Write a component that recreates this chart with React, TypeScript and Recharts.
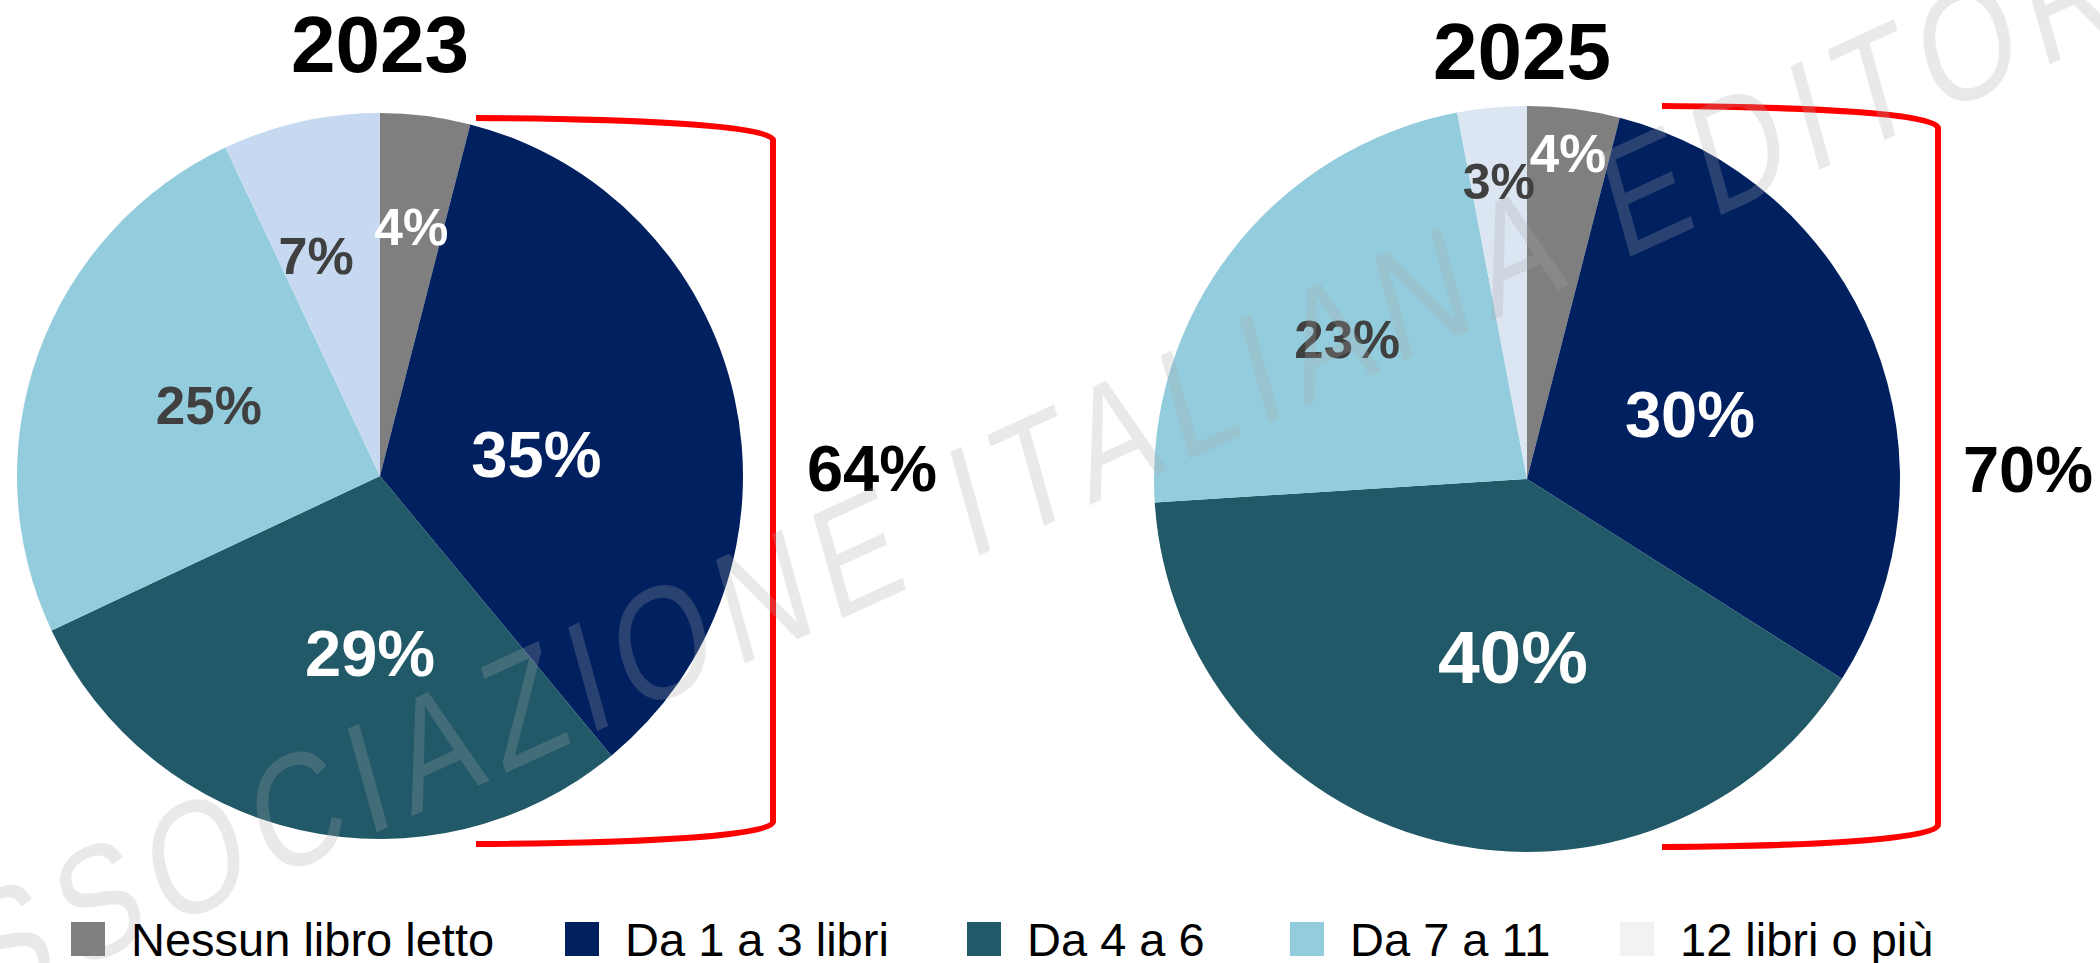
import { PieChart, Pie, Cell } from 'recharts'

const categories = ['Nessun libro letto', 'Da 1 a 3 libri', 'Da 4 a 6', 'Da 7 a 11', '12 libri o più']
const values2023 = [4, 35, 29, 25, 7]
const values2025 = [4, 30, 40, 23, 3]

const colors2023 = ['#7F7F7F', '#002060', '#215968', '#93CDDD', '#C6D9F1']
const colors2025 = ['#7F7F7F', '#002060', '#215968', '#93CDDD', '#DCE6F2']
const legendColors = ['#7F7F7F', '#002060', '#215968', '#93CDDD', '#F2F2F2']

// label placement: fraction of radius, angle nudge (deg), font size, colour
const labels2023 = [
  { r: 0.69, da: 0, size: 51, fill: '#FFFFFF' },
  { r: 0.435, da: -4.6, size: 65, fill: '#FFFFFF' },
  { r: 0.49, da: 9.4, size: 65, fill: '#FFFFFF' },
  { r: 0.51, da: -2.6, size: 53, fill: '#404040' },
  { r: 0.63, da: 3.6, size: 52, fill: '#404040' },
]
const labels2025 = [
  { r: 0.88, da: 0, size: 53, fill: '#FFFFFF' },
  { r: 0.47, da: 0, size: 65, fill: '#FFFFFF' },
  { r: 0.48, da: 9.9, size: 75, fill: '#FFFFFF' },
  { r: 0.61, da: 0, size: 53, fill: '#404040' },
  { r: 0.8, da: 0, size: 50, fill: '#404040' },
]

const legendLeft = [71, 565, 967, 1290, 1620]

const FONT = '"Liberation Sans", Arial, sans-serif'
const RADIAN = Math.PI / 180

const data2023 = categories.map((name, i) => ({ name, value: values2023[i] }))
const data2025 = categories.map((name, i) => ({ name, value: values2025[i] }))

type LabelStyle = { r: number; da: number; size: number; fill: string }

function makeLabel(styles: LabelStyle[]) {
  return (props: any) => {
    const { cx, cy, midAngle, outerRadius, index, value } = props
    const s = styles[index]
    const r = outerRadius * s.r
    const a = (midAngle + s.da) * RADIAN
    const x = cx + r * Math.cos(-a)
    const y = cy + r * Math.sin(-a)
    return (
      <text
        x={x}
        y={y}
        fill={s.fill}
        textAnchor="middle"
        dominantBaseline="central"
        style={{ fontFamily: FONT, fontWeight: 700, fontSize: s.size }}
      >
        {value}%
      </text>
    )
  }
}

function bracket(x0: number, yTop: number, x1: number, yBot: number) {
  const w = x1 - x0
  return [
    `M ${x0} ${yTop}`,
    `C ${x0 + 0.55 * w} ${yTop + 1} ${x1} ${yTop + 8} ${x1} ${yTop + 22}`,
    `L ${x1} ${yBot - 22}`,
    `C ${x1} ${yBot - 8} ${x0 + 0.55 * w} ${yBot - 1} ${x0} ${yBot}`,
  ].join(' ')
}

const sum1to6 = (v: number[]) => v[1] + v[2]

export default function App() {
  return (
    <div style={{ position: 'absolute', left: 0, top: 0, width: 2100, height: 963, overflow: 'hidden', background: '#FFFFFF' }}>
      <PieChart width={2100} height={963} margin={{ top: 0, right: 0, bottom: 0, left: 0 }}>
        <Pie
          data={data2023}
          dataKey="value"
          nameKey="name"
          cx={380}
          cy={476}
          outerRadius={363}
          startAngle={90}
          endAngle={-270}
          stroke="none"
          label={makeLabel(labels2023)}
          labelLine={false}
          isAnimationActive={false}
        >
          {data2023.map((d, i) => (
            <Cell key={d.name} fill={colors2023[i]} />
          ))}
        </Pie>
        <Pie
          data={data2025}
          dataKey="value"
          nameKey="name"
          cx={1527}
          cy={479}
          outerRadius={373}
          startAngle={90}
          endAngle={-270}
          stroke="none"
          label={makeLabel(labels2025)}
          labelLine={false}
          isAnimationActive={false}
        >
          {data2025.map((d, i) => (
            <Cell key={d.name} fill={colors2025[i]} />
          ))}
        </Pie>
      </PieChart>

      <svg width={2100} height={963} style={{ position: 'absolute', left: 0, top: 0, pointerEvents: 'none' }}>
        <g style={{ fontFamily: FONT, fontWeight: 700 }} fill="#000000" textAnchor="middle">
          <text x={380} y={72} fontSize={80}>2023</text>
          <text x={1522} y={79} fontSize={80}>2025</text>
          <text x={872} y={491} fontSize={65}>{sum1to6(values2023)}%</text>
          <text x={2028} y={492} fontSize={65}>{sum1to6(values2025)}%</text>
        </g>
        <g fill="none" stroke="#FF0000" strokeWidth={6}>
          <path d={bracket(476, 118, 773, 844)} />
          <path d={bracket(1662, 106, 1938, 847)} />
        </g>
        {/* watermark */}
        <g transform="translate(985 553) scale(0.78 1) rotate(-19.7)">
          <text
            x={-1488}
            y={0}
            textAnchor="start"
            fill="#A6A6A6"
            fillOpacity={0.25}
            style={{ fontFamily: FONT, fontSize: 160, letterSpacing: 17 }}
          >
            ASSOCIAZIONE ITALIANA EDITORI
          </text>
        </g>
      </svg>

      {categories.map((name, i) => (
        <div
          key={name}
          style={{
            position: 'absolute',
            left: legendLeft[i],
            top: 922,
            height: 34,
            display: 'flex',
            alignItems: 'center',
            gap: 26,
            fontFamily: FONT,
            fontSize: 47,
            color: '#000000',
            whiteSpace: 'nowrap',
          }}
        >
          <div style={{ width: 34, height: 34, background: legendColors[i], flexShrink: 0 }} />
          <span>{name}</span>
        </div>
      ))}
    </div>
  )
}
